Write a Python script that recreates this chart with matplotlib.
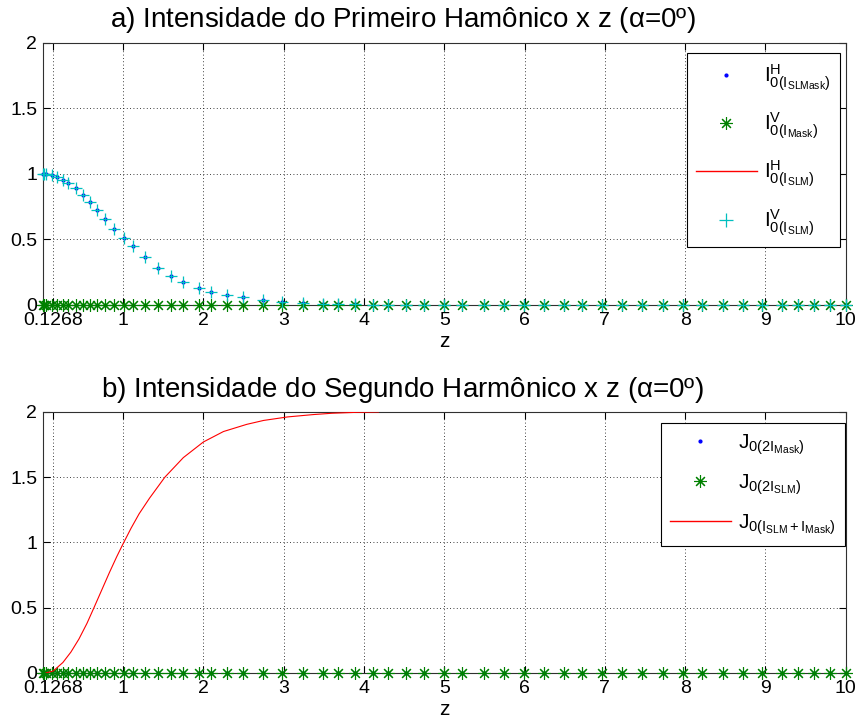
import numpy as np
import matplotlib
matplotlib.use('Agg')
import matplotlib.pyplot as plt
from matplotlib.lines import Line2D

plt.rcParams['font.family'] = ['Liberation Sans', 'DejaVu Sans']
plt.rcParams['mathtext.fontset'] = 'custom'
plt.rcParams['mathtext.rm'] = 'Liberation Sans'
plt.rcParams['mathtext.it'] = 'Liberation Sans'

# sample positions along z
z = [0.0, 0.02, 0.04, 0.11, 0.18, 0.25, 0.32, 0.41, 0.5, 0.59, 0.675, 0.775, 0.89,
     1.01, 1.125, 1.275, 1.44, 1.6, 1.75, 1.95, 2.1, 2.3, 2.49, 2.74, 2.98, 3.24,
     3.49, 3.68, 3.89, 4.11, 4.3, 4.525, 4.75, 5.0, 5.22, 5.49, 5.74, 5.99, 6.24,
     6.49, 6.72, 6.97, 7.21, 7.46, 7.72, 7.97, 8.21, 8.47, 8.72, 8.96, 9.21, 9.41,
     9.61, 9.80, 10.0]
# first harmonic intensity (H with SLM+mask, V with SLM)
iH_slmmask = [1.0, 1.0, 1.0, 0.99, 0.975, 0.954, 0.929, 0.888, 0.837, 0.784, 0.723,
              0.651, 0.578, 0.509, 0.445, 0.361, 0.28, 0.221, 0.173, 0.127, 0.097,
              0.071, 0.059, 0.033, 0.021, 0.01, 0.006, 0.004, 0.003] + [0.0] * 26
iV_mask = [0.0] * len(z)
iV_slm = list(iH_slmmask)
# second harmonic
j_2mask = [0.0] * len(z)
j_2slm = [0.0] * len(z)
z_sum = [0.04, 0.13, 0.25, 0.35, 0.45, 0.55, 0.63, 0.73, 0.83, 0.92, 1.0, 1.1, 1.2,
         1.33, 1.52, 1.75, 2.0, 2.25, 2.54, 2.75, 3.05, 3.37, 3.6, 3.9, 4.18]
j_sum = [0.0, 0.015, 0.08, 0.16, 0.26, 0.38, 0.49, 0.63, 0.77, 0.89, 0.99, 1.11, 1.22,
         1.34, 1.5, 1.65, 1.77, 1.85, 1.905, 1.935, 1.962, 1.98, 1.99, 1.997, 2.0]

xticks = [0.1268, 1, 2, 3, 4, 5, 6, 7, 8, 9, 10]
xticklabels = ['0.1268'] + [str(t) for t in range(1, 11)]
yticks = [0, 0.5, 1, 1.5, 2]
yticklabels = ['0', '0.5', '1', '1.5', '2']

blue = (0, 0, 1); green = (0, 0.5, 0); red = (1, 0, 0); cyan = (0, 0.75, 0.75)
star = (8, 2, 0)

fig = plt.figure(figsize=(8.56, 7.24), dpi=100)
ax1 = fig.add_axes([0.050, 0.579, 0.938, 0.362])
ax2 = fig.add_axes([0.050, 0.0705, 0.938, 0.3605])

def style(ax, title):
    ax.set_xlim(0, 10); ax.set_ylim(0, 2)
    ax.set_xticks(xticks); ax.set_xticklabels(xticklabels)
    ax.set_yticks(yticks); ax.set_yticklabels(yticklabels)
    ax.tick_params(direction='in', top=True, right=True, labelsize=14, length=5, width=0.8)
    ax.tick_params(axis='x', pad=5)
    ax.tick_params(axis='y', pad=4)
    ax.grid(True, linestyle=(0, (1, 3)), color='black', linewidth=0.6)
    for s in ax.spines.values():
        s.set_linewidth(0.8); s.set_color('#303030')
    ax.set_xlabel('z', fontsize=15, labelpad=2)
    ax.set_title(title, fontsize=20, x=0.448, pad=11)

def legend(ax, handles, labels, anchor, spacing):
    leg = ax.legend(handles, labels, loc='upper right', fontsize=15, handlelength=2.9,
                    labelspacing=spacing, borderpad=0.45, handletextpad=0.35,
                    borderaxespad=0, fancybox=False, framealpha=1, edgecolor='black',
                    bbox_to_anchor=anchor)
    leg.get_frame().set_linewidth(0.8)

# a) first harmonic
ax1.plot(z, iH_slmmask, '.', color=blue, markersize=4, zorder=3, clip_on=False)
ax1.plot(z, iV_mask, linestyle='none', marker=star, color=green, markersize=9,
         markeredgewidth=0.8, zorder=3, clip_on=False)
ax1.plot(z, iV_slm, '+', color=cyan, markersize=9, markeredgewidth=0.9, zorder=4, clip_on=False)
style(ax1, r'a) Intensidade do Primeiro Hamônico x z ($\alpha$=0º)')
h1 = [Line2D([], [], linestyle='none', marker='.', color=blue, markersize=4),
      Line2D([], [], linestyle='none', marker=star, color=green, markersize=9, markeredgewidth=0.8),
      Line2D([], [], color=red, linewidth=1.0),
      Line2D([], [], linestyle='none', marker='+', color=cyan, markersize=10, markeredgewidth=0.9)]
l1 = [r'$\mathregular{I^{H}_{0(I_{SLMask})}}$', r'$\mathregular{I^{V}_{0(I_{Mask})}}$',
      r'$\mathregular{I^{H}_{0(I_{SLM})}}$', r'$\mathregular{I^{V}_{0(I_{SLM})}}$']
legend(ax1, h1, l1, (0.9925, 0.962), 0.85)

# b) second harmonic
ax2.plot(z, j_2mask, '.', color=blue, markersize=4, zorder=3, clip_on=False)
ax2.plot(z, j_2slm, linestyle='none', marker=star, color=green, markersize=9,
         markeredgewidth=0.8, zorder=3, clip_on=False)
ax2.plot(z_sum, j_sum, '-', color=red, linewidth=0.8, zorder=4)
style(ax2, r'b) Intensidade do Segundo Harmônico x z ($\alpha$=0º)')
h2 = [Line2D([], [], linestyle='none', marker='.', color=blue, markersize=4),
      Line2D([], [], linestyle='none', marker=star, color=green, markersize=9, markeredgewidth=0.8),
      Line2D([], [], color=red, linewidth=1.0)]
l2 = [r'$\mathregular{J_{0(2I_{Mask})}}$', r'$\mathregular{J_{0(2I_{SLM})}}$',
      r'$\mathregular{J_{0(I_{SLM}+I_{Mask})}}$']
legend(ax2, h2, l2, (0.999, 0.958), 0.75)

fig.savefig('out.png', dpi=100)
